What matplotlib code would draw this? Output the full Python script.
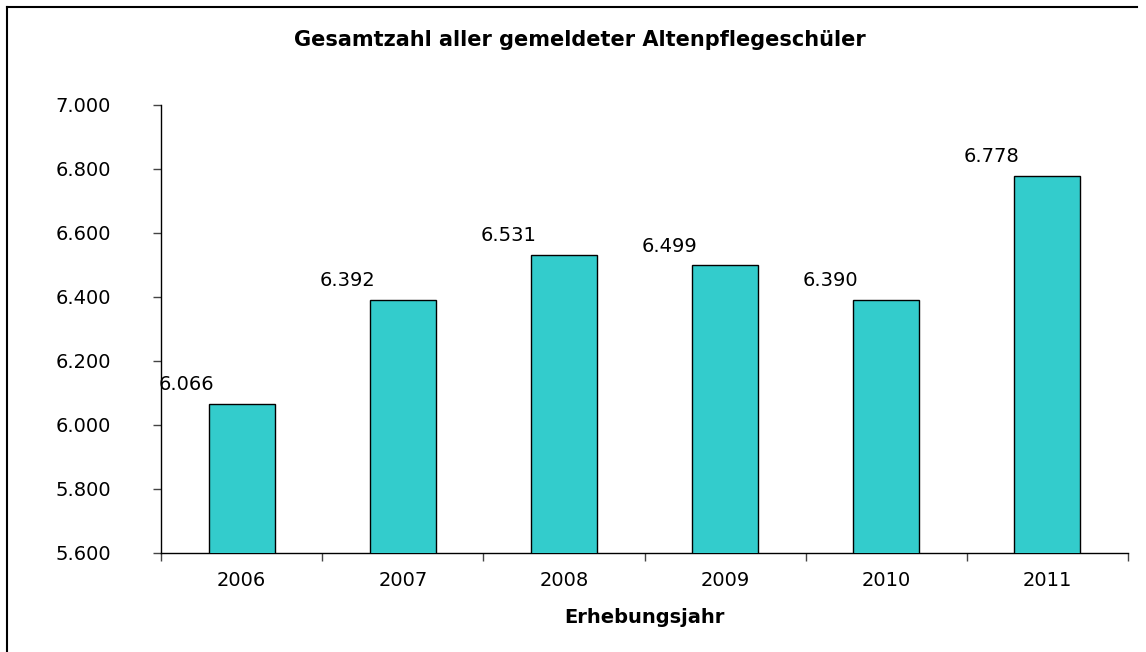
"""Gesamtzahl aller gemeldeter Altenpflegeschüler, 2006-2011."""

import numpy as np
import matplotlib.pyplot as plt
from matplotlib.lines import Line2D
from matplotlib.ticker import FuncFormatter, FixedLocator

# Data
YEARS = ["2006", "2007", "2008", "2009", "2010", "2011"]
COUNTS = [6066, 6392, 6531, 6499, 6390, 6778]
Y_TICKS = [5600, 5800, 6000, 6200, 6400, 6600, 6800, 7000]

BAR_COLOR = "#33CCCC"
W, H = 1146, 652
FS = 14

# the reference uses a very wide sans, DejaVu is the widest available
plt.rcParams['font.family'] = ['DejaVu Sans']


def de_thousands(v, pos=None):
    """German thousands separator: 6800 -> 6.800"""
    return f"{int(round(v)):,}".replace(",", ".")


fig = plt.figure(figsize=(W / 100, H / 100), dpi=100)
ax = fig.add_axes([161 / W, (H - 553) / H, (1128 - 161) / W, (553 - 105) / H])

x = np.arange(len(YEARS))
ax.bar(x, COUNTS, width=0.41, color=BAR_COLOR, edgecolor="black",
       linewidth=1.0, zorder=3)

for xi, val in zip(x, COUNTS):
    ax.annotate(de_thousands(val), (xi, val), textcoords="offset points",
                xytext=(-40, 7), ha="center", va="bottom", fontsize=FS)

ax.set_xlim(-0.5, len(YEARS) - 0.5)
ax.set_ylim(Y_TICKS[0], Y_TICKS[-1])

# y axis
ax.yaxis.set_major_locator(FixedLocator(Y_TICKS))
ax.yaxis.set_major_formatter(FuncFormatter(de_thousands))
ax.tick_params(axis="y", direction="out", length=6, width=1, color="#444444",
               pad=30, labelsize=FS)

# x axis: ticks at category boundaries, labels at centers
ax.set_xticks(np.arange(len(YEARS) + 1) - 0.5)
ax.set_xticklabels([])
ax.set_xticks(x, minor=True)
ax.set_xticklabels(YEARS, minor=True)
ax.tick_params(axis="x", which="major", direction="out", length=6, width=1,
               color="#444444")
ax.tick_params(axis="x", which="minor", length=0, pad=13, labelsize=FS)

for side in ("top", "right"):
    ax.spines[side].set_visible(False)
ax.spines["left"].set_linewidth(1)
ax.spines["bottom"].set_linewidth(1)

ax.set_xlabel("Erhebungsjahr", fontsize=FS, fontweight="bold", labelpad=13)

fig.text(580 / W, 1 - 40 / H, "Gesamtzahl aller gemeldeter Altenpflegeschüler",
         ha="center", va="center", fontsize=15, fontweight="bold")

# outer frame (top and left edges visible in the reference)
fig.add_artist(Line2D([7 / W, 7 / W], [0, 1 - 7 / H], transform=fig.transFigure,
                      color="black", linewidth=1.5))
fig.add_artist(Line2D([7 / W, 1137 / W], [1 - 7 / H, 1 - 7 / H],
                      transform=fig.transFigure, color="black", linewidth=1.5))

fig.savefig("out.png", dpi=100, facecolor="white")
